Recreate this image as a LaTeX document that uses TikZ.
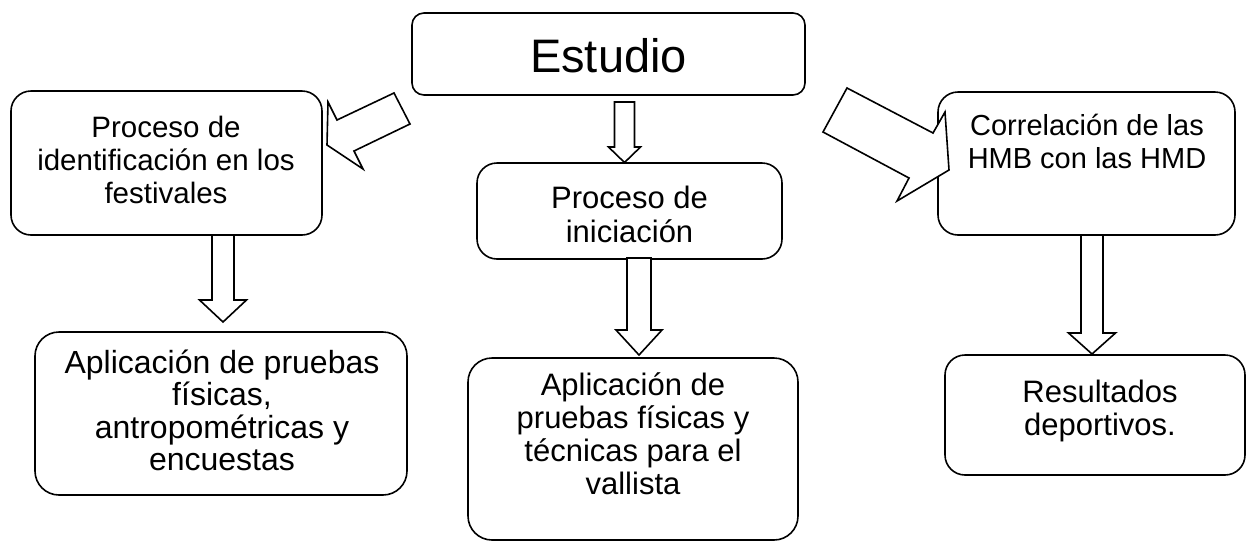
\documentclass[tikz,border=0pt]{standalone}
\usepackage{fontspec}
\setmainfont{Liberation Sans}
\begin{document}
\begin{tikzpicture}[x=1pt,y=-1pt,
  box/.style={draw, line width=1.6pt, rounded corners=20pt, fill=white, inner sep=0pt},
  barrow/.style={draw, line width=1.6pt, fill=white, line join=miter},
  txt/.style={align=center, inner sep=0pt, anchor=base}
]
\useasboundingbox (0,0) rectangle (1247,542);

% boxes
\node[box, rounded corners=12pt, minimum width=393pt, minimum height=82pt] (estudio) at (608.5,54) {};
\node[box, minimum width=311pt, minimum height=144pt] (ident) at (166.5,163) {};
\node[box, minimum width=305pt, minimum height=96pt] (inic) at (629.5,211) {};
\node[box, minimum width=297pt, minimum height=143pt] (correl) at (1086.5,163.5) {};
\node[box, rounded corners=24pt, minimum width=372pt, minimum height=163pt] (aplicA) at (221,413.5) {};
\node[box, rounded corners=24pt, minimum width=330pt, minimum height=182pt] (aplicB) at (633,449) {};
\node[box, minimum width=300pt, minimum height=120pt] (result) at (1095,415) {};

% block arrows
\draw[barrow] (394,93) -- (337,120) -- (328,102) -- (327,145) -- (363,169) -- (354,151) -- (410,124) -- cycle;
\draw[barrow] (847,88) -- (933,133) -- (945,112) -- (949,170) -- (897,201) -- (909,178) -- (823,132) -- cycle;
\draw[barrow] (614.5,102) -- (634.5,102) -- (634.5,147) -- (640.5,147) -- (624.5,162.5) -- (608.5,147) -- (614.5,147) -- cycle;
\draw[barrow] (212,235) -- (234,235) -- (234,300) -- (246.5,300) -- (223,322) -- (199.5,300) -- (212,300) -- cycle;
\draw[barrow] (627,258) -- (651,258) -- (651,330) -- (662,330) -- (639,355) -- (616,330) -- (627,330) -- cycle;
\draw[barrow] (1081,235) -- (1103,235) -- (1103,333) -- (1115.5,333) -- (1092,354) -- (1068.5,333) -- (1081,333) -- cycle;

% texts (anchor base = baseline of last line)
\node[txt, font=\fontsize{47}{54}\selectfont] (testudio) at (608.5,72) {Estudio};
\node[txt, font=\fontsize{29.5}{33}\selectfont] (tident) at (166,203) {Proceso de\\identificación en los\\festivales};
\node[txt, font=\fontsize{29}{33}\selectfont] (tcorrel) at (1087,168) {Correlación de las\\HMB con las HMD};
\node[txt, font=\fontsize{31}{34}\selectfont] (tinic) at (629.5,242) {Proceso de\\iniciación};
\node[txt, font=\fontsize{32}{32.5}\selectfont] (taplicA) at (222,470.5) {Aplicación de pruebas\\físicas,\\antropométricas y\\encuestas};
\node[txt, font=\fontsize{31}{33}\selectfont] (taplicB) at (633,494) {Aplicación de\\pruebas físicas y\\técnicas para el\\vallista};
\node[txt, font=\fontsize{31}{33}\selectfont] (tresult) at (1100,435) {Resultados\\deportivos.};
\end{tikzpicture}
\end{document}
